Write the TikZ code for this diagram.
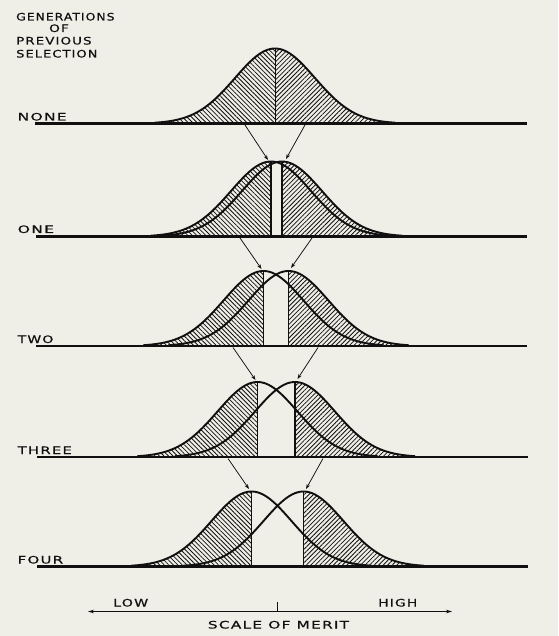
\documentclass[tikz,border=0pt]{standalone}
\usepackage{fontspec}
\usetikzlibrary{patterns.meta,arrows.meta}
\newfontfamily\handfont[FakeStretch=1.2,LetterSpace=10,FakeBold=0.5]{DejaVu Sans}
\definecolor{paper}{RGB}{239,238,231}
\definecolor{ink}{RGB}{16,16,16}
\newcommand{\gauss}[2]{#2-75*exp(-0.5*((\x-#1)/40)*((\x-#1)/40))}
\newcommand{\hw}[2]{\scalebox{#1}[1]{#2}}
\tikzset{
  lab/.style={font=\handfont\fontsize{10.3}{12}\selectfont, text=ink, inner sep=0pt, anchor=base west},
  baseln/.style={draw=ink, line width=2.5pt},
  curve/.style={draw=ink, line width=1.9pt},
  cutln/.style={draw=ink, line width=1.3pt},
  hatchL/.style={pattern={Lines[angle=-45,distance=3.2pt,line width=0.8pt]}, pattern color=ink},
  hatchR/.style={pattern={Lines[angle=45,distance=3.2pt,line width=0.8pt]}, pattern color=ink},
  selarrow/.style={draw=ink, line width=0.75pt, -{Stealth[length=5pt,width=3.6pt]}},
  scalebar/.style={draw=ink, line width=1.2pt, {Stealth[length=6pt,width=3.6pt]}-{Stealth[length=6pt,width=3.6pt]}}
}
\newcommand{\pairlevel}[3]{%
  \pgfmathsetmacro\lA{#1-120}%
  \pgfmathsetmacro\lB{#1+120}%
  \pgfmathsetmacro\rA{#2-120}%
  \pgfmathsetmacro\rB{#2+120}%
  \fill[hatchL] (\lA,#3) -- plot[domain=\lA:#1,samples=50,smooth] (\x,{\gauss{#1}{#3}}) -- (#1,#3) -- cycle;
  \fill[hatchR] (#2,#3) -- plot[domain=#2:\rB,samples=50,smooth] (\x,{\gauss{#2}{#3}}) -- (\rB,#3) -- cycle;
  \draw[curve] plot[domain=\lA:\lB,samples=100,smooth] (\x,{\gauss{#1}{#3}});
  \draw[curve] plot[domain=\rA:\rB,samples=100,smooth] (\x,{\gauss{#2}{#3}});
  \draw[cutln] (#1,#3) -- (#1,{#3-75});
  \draw[cutln] (#2,#3) -- (#2,{#3-75});
}
\begin{document}
\begin{tikzpicture}[x=1pt,y=-1pt]
\fill[paper] (0,0) rectangle (558,636);
\useasboundingbox (0,0) rectangle (558,636);

% heading
\node[lab] (gen) at (16,20.5) {\hw{1.0}{GENERATIONS}};
\node[lab, anchor=base] (of) at (59,32) {\hw{1.1}{OF}};
\node[lab] (prev) at (16,44.5) {\hw{1.08}{PREVIOUS}};
\node[lab] (sel) at (16,57.5) {\hw{1.05}{SELECTION}};

% level NONE
\pgfmathsetmacro\nA{275-120}
\pgfmathsetmacro\nB{275+120}
\fill[hatchL] (\nA,123.5) -- plot[domain=\nA:275,samples=60,smooth] (\x,{\gauss{275}{123.5}}) -- (275,123.5) -- cycle;
\fill[hatchR] (275,123.5) -- plot[domain=275:\nB,samples=60,smooth] (\x,{\gauss{275}{123.5}}) -- (\nB,123.5) -- cycle;
\draw[curve] plot[domain=\nA:\nB,samples=120,smooth] (\x,{\gauss{275}{123.5}});
\draw[cutln, line width=1pt] (275,123.5) -- (275,48.5);

% other levels
\pairlevel{271}{282}{236.5}
\pairlevel{263.5}{288.5}{346}
\pairlevel{257.5}{295}{457}
\pairlevel{251.5}{303.5}{566.5}

% baselines
\draw[baseln] (35,123.5) -- (527,123.5);
\draw[baseln] (36,236.5) -- (527,236.5);
\draw[baseln] (36,346) -- (527,346);
\draw[baseln] (37,457) -- (528,457);
\draw[baseln] (37,566.5) -- (528,566.5);

% level labels
\node[lab] (none) at (17.5,120.5) {\hw{1.25}{NONE}};
\node[lab] (one) at (17.5,233) {\hw{1.26}{ONE}};
\node[lab] (two) at (17.5,343) {\hw{1.13}{TWO}};
\node[lab] (three) at (17.5,454) {\hw{1.2}{THREE}};
\node[lab] (four) at (17.5,563.5) {\hw{1.21}{FOUR}};

% selection arrows
\coordinate (a1s) at (245,125); \coordinate (a1e) at (268,160);
\coordinate (b1s) at (305,125); \coordinate (b1e) at (286,159);
\coordinate (a2s) at (240,238); \coordinate (a2e) at (261.5,269);
\coordinate (b2s) at (312,238); \coordinate (b2e) at (291,268);
\coordinate (a3s) at (233,347.5); \coordinate (a3e) at (255.5,380);
\coordinate (b3s) at (318,347.5); \coordinate (b3e) at (297.5,379);
\coordinate (a4s) at (228,458.5); \coordinate (a4e) at (249,489);
\coordinate (b4s) at (323,458.5); \coordinate (b4e) at (306,489);
\draw[selarrow] (a1s) -- (a1e);
\draw[selarrow] (b1s) -- (b1e);
\draw[selarrow] (a2s) -- (a2e);
\draw[selarrow] (b2s) -- (b2e);
\draw[selarrow] (a3s) -- (a3e);
\draw[selarrow] (b3s) -- (b3e);
\draw[selarrow] (a4s) -- (a4e);
\draw[selarrow] (b4s) -- (b4e);

% scale of merit
\coordinate (sL) at (88,611.5);
\coordinate (sR) at (452,611.5);
\coordinate (tkT) at (277,602);
\coordinate (tkB) at (277,611.5);
\draw[scalebar] (sL) -- (sR);
\draw[draw=ink, line width=1pt] (tkT) -- (tkB);
\node[lab] (low) at (113,606.5) {\hw{1.15}{LOW}};
\node[lab] (high) at (378,606.5) {\hw{1.12}{HIGH}};
\node[lab, anchor=base] (som) at (278.5,628.5) {\hw{1.24}{SCALE OF MERIT}};
\end{tikzpicture}
\end{document}
